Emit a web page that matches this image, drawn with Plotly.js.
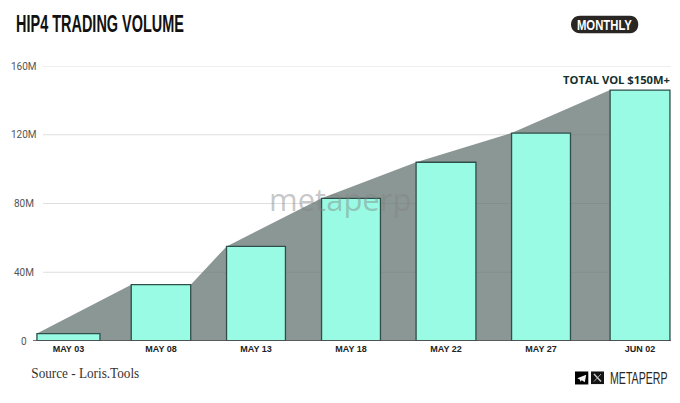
<!DOCTYPE html>
<html><head><meta charset="utf-8">
<script src="https://cdn.plot.ly/plotly-3.0.1.min.js"></script>
<style>html,body{margin:0;padding:0;background:#fff}</style></head>
<body><div id="chart" style="width:680px;height:403px"></div>
<script>
var categories = ["MAY 03","MAY 08","MAY 13","MAY 18","MAY 22","MAY 27","JUN 02"];
var volumeM = [4.3, 32.8, 55, 83, 104, 121, 146];
var yTicks = [0, 40, 80, 120, 160];
var yTickLabels = ["0","40M","80M","120M","160M"];
var titleText = "HIP4 TRADING VOLUME";
var badgeText = "MONTHLY";
var calloutText = "TOTAL VOL $150M+";
var sourceText = "Source - Loris.Tools";
var brandText = "METAPERP";
var watermarkText = "metaperp";

var barNudge = [0.026,0,0,0,0,0,0.042];
var barWidths = [0.663,0.626,0.62,0.62,0.63,0.62,0.63];
var idx = categories.map(function(c,i){return i + barNudge[i];});
var areaX = [], areaY = [];
idx.forEach(function(xv,i){
  areaX.push(xv - barWidths[i]/2); areaY.push(volumeM[i]);
  if (i === 1) { areaX.push(xv + barWidths[i]/2); areaY.push(volumeM[i]); }
});
areaX.push(idx[6] + barWidths[6]/2); areaY.push(volumeM[6]);

var xRange = [-0.347, 6.368], yRange = [0, 160];
var traces = [
 {type:'scatter',mode:'none',x:areaX,y:areaY,fill:'tozeroy',fillcolor:'rgba(100,116,113,0.75)',hoverinfo:'skip',showlegend:false},
 {type:'bar',x:idx,y:volumeM,width:barWidths,xaxis:'x2',yaxis:'y2',marker:{color:'#99fbe3',line:{color:'#2f4f4a',width:1.3}},showlegend:false}
];
function P(x,y){return [(x-33)/638,(340.5-y)/275.2];}
function pt(x,y){var q=P(x,y);return q[0]+' '+q[1];}
function note(x,y,text,font){var q=P(x,y);return {xref:'paper',yref:'paper',x:q[0],y:q[1],xanchor:'center',yanchor:'middle',text:text,showarrow:false,font:font};}
function rect(x0,y0,x1,y1,c){var a=P(x0,y0),b=P(x1,y1);return {type:'rect',xref:'paper',yref:'paper',x0:a[0],y0:a[1],x1:b[0],y1:b[1],fillcolor:c,line:{width:0},layer:'above'};}
function poly(points,c){return {type:'path',xref:'paper',yref:'paper',layer:'above',line:{width:0},fillcolor:c,path:points};}
function stroke(x0,y0,x1,y1,c,w){var a=P(x0,y0),b=P(x1,y1);return {type:'line',xref:'paper',yref:'paper',x0:a[0],y0:a[1],x1:b[0],y1:b[1],line:{color:c,width:w},layer:'above'};}

var shapes = yTicks.filter(function(v){return v>0;}).map(function(v){
  return {type:'line',xref:'paper',yref:'y',x0:P(43,0)[0],x1:1,y0:v,y1:v,line:{color:'#dedede',width:1.2},layer:'below'};
});
shapes.push({type:'line',xref:'paper',yref:'y',x0:0,x1:1,y0:0,y1:0,line:{color:'#4a4a48',width:1.3},layer:'above'});
shapes.push(poly('M'+pt(580,15)+' L'+pt(630,15)+' C'+pt(641,15)+' '+pt(641,32.5)+' '+pt(630,32.5)+' L'+pt(580,32.5)+' C'+pt(568,32.5)+' '+pt(568,15)+' '+pt(580,15)+' Z','#2a2623'));
shapes.push(rect(575,371,588.3,384,'#000'));
shapes.push(poly('M'+pt(577.3,377.8)+' L'+pt(586.2,374.2)+' L'+pt(584.8,381.8)+' L'+pt(581.8,379.8)+' L'+pt(580.3,381.4)+' L'+pt(580,379.2)+' Z','#f2f2f2'));
shapes.push(rect(591,371,604,383.6,'#141414'));
shapes.push(stroke(594,373.6,601,381,'#cfcfcf',1.4));
shapes.push(stroke(601,373.6,594,381,'#cfcfcf',0.8));

var annotations = yTicks.map(function(v,i){
  return {xref:'paper',yref:'y',x:P(23.5,0)[0],y:v,xanchor:'center',yanchor:'middle',text:yTickLabels[i],showarrow:false,font:{family:'Roboto',size:10,color:'#555'}};
});
annotations.push(note(616.5,79,calloutText,{family:'Open Sans',size:11,color:'#12302c',weight:700}));
annotations.push(note(85,373.5,sourceText,{family:'Liberation Serif',size:14,color:'#333'}));
annotations.push(note(639.3,378,brandText,{family:'Liberation Sans',size:16.5,color:'#2a2623'}));
annotations.push(note(604.5,24,badgeText,{family:'Liberation Sans',size:15,color:'#fff',weight:700}));
annotations.push(note(340,198,watermarkText,{family:'Open Sans',size:31,color:'rgba(130,130,130,0.45)'}));

var layout = {
 width:680,height:403,paper_bgcolor:'#fff',plot_bgcolor:'#fff',showlegend:false,
 margin:{l:33,r:9,t:65.5,b:62},
 title:{text:titleText,x:100/680,xanchor:'center',xref:'container',y:1-23.5/403,yanchor:'middle',yref:'container',font:{family:'Liberation Sans',size:23,color:'#111',weight:700}},
 xaxis:{type:'linear',range:xRange,tickvals:idx,ticktext:categories,showgrid:false,zeroline:false,ticks:'',showline:false,ticklabelstandoff:1,
   tickfont:{family:'Liberation Sans',size:9,color:'#222',weight:700}},
 yaxis:{range:yRange,tickvals:yTicks,showticklabels:false,showgrid:false,zeroline:false,ticks:'',showline:false},
 xaxis2:{type:'linear',range:xRange,overlaying:'x',anchor:'y2',visible:false},
 yaxis2:{range:yRange,overlaying:'y',anchor:'x2',visible:false},
 annotations:annotations,shapes:shapes
};
var fitted = {};
fitted[titleText]=168; fitted[badgeText]=55; fitted[brandText]=57.5; fitted[sourceText]=108; fitted[calloutText]=107;
Plotly.newPlot('chart',traces,layout,{displayModeBar:false,staticPlot:true}).then(function(){
  document.querySelectorAll('#chart text').forEach(function(t){
    var w = fitted[t.textContent];
    if (!w) return;
    var natural = t.getComputedTextLength();
    var cx = parseFloat(t.getAttribute('x')) || 0;
    var s = w / natural;
    var old = t.getAttribute('transform') || '';
    t.setAttribute('transform', old + ' translate(' + cx + ' 0) scale(' + s + ' 1) translate(' + (-cx) + ' 0)');
  });
});
</script></body></html>
